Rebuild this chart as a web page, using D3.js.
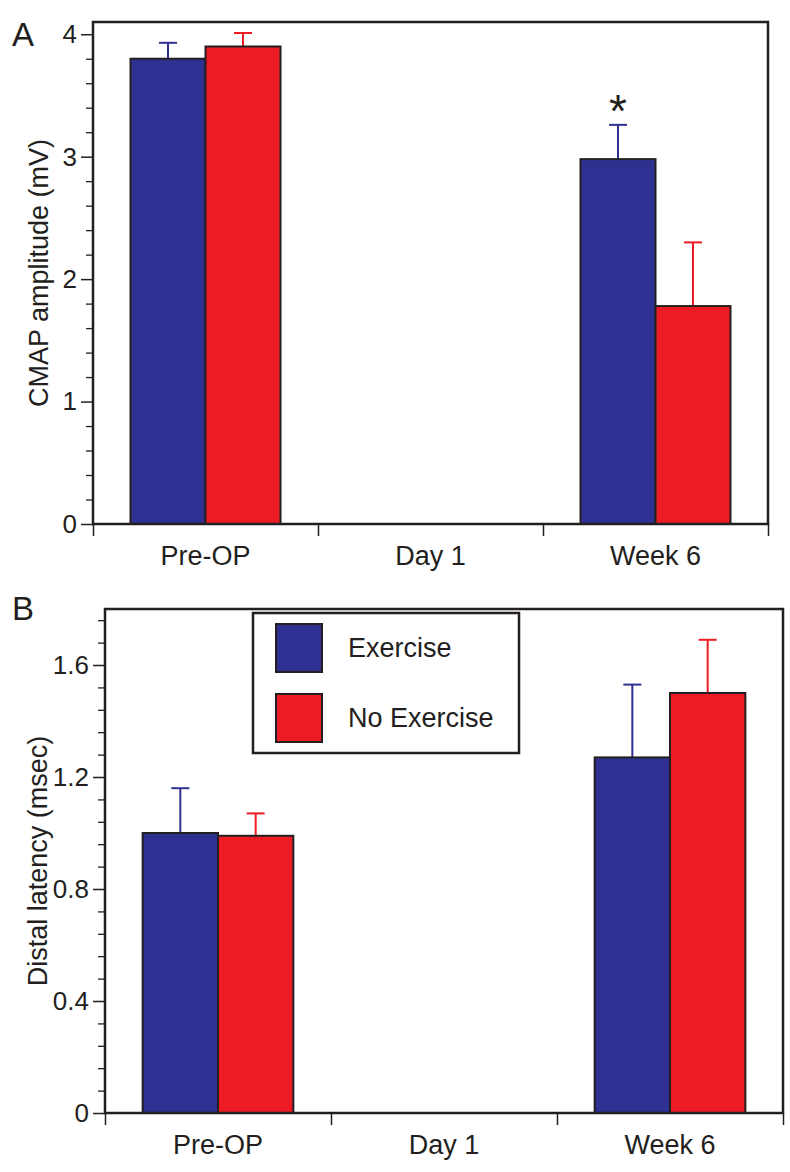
<!DOCTYPE html>
<html><head><meta charset="utf-8">
<script src="https://cdn.jsdelivr.net/npm/d3@7"></script>
<style>
body{margin:0;background:#fff}
svg{display:block}
text{font-family:"Liberation Sans",Arial,Helvetica,sans-serif;fill:#231f20}
</style>
</head><body>
<svg id="chart" width="790" height="1172"></svg>
<script>
// ---- data ----
const categories = ["Pre-OP", "Day 1", "Week 6"];
const seriesNames = ["Exercise", "No Exercise"];
const seriesColors = ["#2e3192", "#ed1c24"];

const cmapExercise = [3.80, null, 2.98];
const cmapExerciseErr = [0.13, null, 0.28];
const cmapNoExercise = [3.90, null, 1.78];
const cmapNoExerciseErr = [0.11, null, 0.52];

const latExercise = [1.00, null, 1.27];
const latExerciseErr = [0.16, null, 0.26];
const latNoExercise = [0.99, null, 1.50];
const latNoExerciseErr = [0.08, null, 0.19];

const cmapTicks = [0, 1, 2, 3, 4];
const cmapTickLabels = ["0", "1", "2", "3", "4"];
const latTicks = [0, 0.4, 0.8, 1.2, 1.6];
const latTickLabels = ["0", "0.4", "0.8", "1.2", "1.6"];

const svg = d3.select("#chart");
const INK = "#231f20";

function drawPanel(cfg) {
  const g = svg.append("g");
  const x = d3.scaleBand().domain(categories).range([cfg.left, cfg.right]).padding(0);
  const inner = d3.scaleBand().domain(seriesNames)
    .range([x.bandwidth() / 6, x.bandwidth() * 5 / 6]).padding(0);
  const y = d3.scaleLinear().domain([0, cfg.max]).range([cfg.bottom, cfg.top]);

  // minor ticks
  const minors = d3.range(0, cfg.max + 1e-9, cfg.minorStep)
    .filter(v => !cfg.ticks.some(t => Math.abs(t - v) < 1e-6));
  g.append("g").attr("transform", `translate(${cfg.left},0)`)
    .call(d3.axisLeft(y).tickValues(minors).tickSize(7).tickFormat(""))
    .call(a => a.select(".domain").remove())
    .call(a => a.selectAll("line").attr("stroke", INK).attr("stroke-width", 1.3));
  // major ticks
  g.append("g").attr("transform", `translate(${cfg.left},0)`)
    .call(d3.axisLeft(y).tickValues(cfg.ticks).tickSize(12).tickPadding(4)
      .tickFormat((d, i) => cfg.tickLabels[i]))
    .call(a => a.select(".domain").remove())
    .call(a => a.selectAll("line").attr("stroke", INK).attr("stroke-width", 1.5))
    .call(a => a.selectAll("text").attr("font-size", 26)
      .attr("font-family", '"Liberation Sans",Arial,sans-serif').attr("fill", INK));

  // x boundary ticks
  const xb = d3.scaleLinear().domain([0, categories.length]).range([cfg.left, cfg.right]);
  g.append("g").attr("transform", `translate(0,${cfg.bottom})`)
    .call(d3.axisBottom(xb).tickValues(d3.range(0, categories.length + 1)).tickSize(12).tickFormat(""))
    .call(a => a.select(".domain").remove())
    .call(a => a.selectAll("line").attr("stroke", INK).attr("stroke-width", 1.5));
  // category labels
  g.append("g").attr("transform", `translate(0,${cfg.bottom})`)
    .call(d3.axisBottom(x).tickSize(0).tickPadding(22))
    .call(a => a.select(".domain").remove())
    .call(a => a.selectAll("text").attr("font-size", 27)
      .attr("font-family", '"Liberation Sans",Arial,sans-serif').attr("fill", INK));

  // bars
  const rows = [];
  categories.forEach((c, i) => {
    cfg.series.forEach((s, j) => {
      if (s.values[i] != null) rows.push({ c, s: seriesNames[j], v: s.values[i], e: s.errs[i], color: seriesColors[j] });
    });
  });
  const eb = g.append("g");
  rows.forEach(r => {
    const cx = x(r.c) + inner(r.s) + inner.bandwidth() / 2;
    eb.append("line").attr("x1", cx).attr("x2", cx).attr("y1", y(r.v)).attr("y2", y(r.v + r.e))
      .attr("stroke", r.color).attr("stroke-width", 2);
    eb.append("line").attr("x1", cx - 9).attr("x2", cx + 9).attr("y1", y(r.v + r.e)).attr("y2", y(r.v + r.e))
      .attr("stroke", r.color).attr("stroke-width", 2);
  });
  g.append("g").selectAll("rect").data(rows).join("rect")
    .attr("x", r => x(r.c) + inner(r.s))
    .attr("y", r => y(r.v))
    .attr("width", inner.bandwidth())
    .attr("height", r => y(0) - y(r.v))
    .attr("fill", r => r.color)
    .attr("stroke", INK).attr("stroke-width", 2);

  // frame
  g.append("rect").attr("x", cfg.left).attr("y", cfg.top)
    .attr("width", cfg.right - cfg.left).attr("height", cfg.bottom - cfg.top)
    .attr("fill", "none").attr("stroke", INK).attr("stroke-width", 2.5);

  // y label
  g.append("text")
    .attr("transform", `translate(${cfg.ylabelX},${(cfg.top + cfg.bottom) / 2}) rotate(-90)`)
    .attr("text-anchor", "middle").attr("font-size", 27).text(cfg.ylabel);
  // panel letter
  g.append("text").attr("x", 12).attr("y", cfg.letterY).attr("font-size", 33).text(cfg.letter);

  return { g, x, inner, y };
}

const A = drawPanel({
  left: 93, right: 768, top: 22, bottom: 524, max: 4.1,
  ticks: cmapTicks, tickLabels: cmapTickLabels, minorStep: 0.2,
  series: [{ values: cmapExercise, errs: cmapExerciseErr }, { values: cmapNoExercise, errs: cmapNoExerciseErr }],
  ylabel: "CMAP amplitude (mV)", ylabelX: 48, letter: "A", letterY: 46
});
{
  const cx = A.x("Week 6") + A.inner("Exercise") + A.inner.bandwidth() / 2;
  A.g.append("text").attr("x", cx).attr("y", A.y(cmapExercise[2] + cmapExerciseErr[2]) + 2)
    .attr("text-anchor", "middle").attr("font-size", 46).text("*");
}

const B = drawPanel({
  left: 105, right: 783, top: 609, bottom: 1113, max: 1.8,
  ticks: latTicks, tickLabels: latTickLabels, minorStep: 0.08,
  series: [{ values: latExercise, errs: latExerciseErr }, { values: latNoExercise, errs: latNoExerciseErr }],
  ylabel: "Distal latency (msec)", ylabelX: 47, letter: "B", letterY: 620
});

// legend
{
  const lg = svg.append("g").attr("transform", "translate(253,613)");
  lg.append("rect").attr("width", 266).attr("height", 140)
    .attr("fill", "#fff").attr("stroke", INK).attr("stroke-width", 2.5);
  seriesNames.forEach((n, i) => {
    lg.append("rect").attr("x", 23).attr("y", 11 + i * 70).attr("width", 46).attr("height", 48)
      .attr("fill", seriesColors[i]).attr("stroke", INK).attr("stroke-width", 2);
    lg.append("text").attr("x", 95).attr("y", 44 + i * 70).attr("font-size", 27).text(n);
  });
}
</script>
</body></html>
